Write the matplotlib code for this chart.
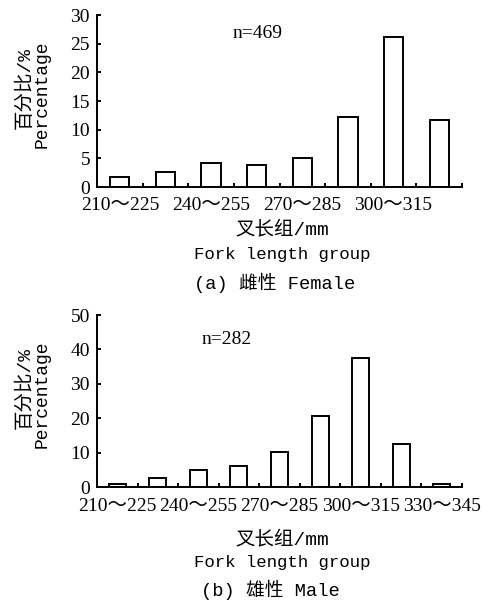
import matplotlib
matplotlib.use("Agg")
import matplotlib.pyplot as plt
import numpy as np

# fork length groups (mm)
female_groups = ["210～225", "225～240", "240～255", "255～270",
                 "270～285", "285～300", "300～315", "315～330"]
female_pct = [1.7, 2.7, 4.1, 3.8, 5.0, 12.2, 26.2, 11.7]

male_groups = ["210～225", "225～240", "240～255", "255～270", "270～285",
               "285～300", "300～315", "315～330", "330～345"]
male_pct = [1.0, 2.5, 5.0, 6.0, 10.3, 20.6, 37.6, 12.4, 1.0]

SERIF = ["Liberation Serif", "Noto Sans CJK SC"]
MONO = ["Liberation Mono", "Noto Sans CJK SC"]

W, H = 482, 603


def fy(py):
    # pixel row from top -> figure fraction
    return 1 - py / H


def draw_panel(ax, groups, values, ymax, ystep, n_text, n_pos, xpad, off, caption, cap_x, lab_y):
    x = np.arange(len(groups))
    ax.bar(x, values, width=0.42, color="white", edgecolor="black", linewidth=1.4)
    ax.set_xlim(-0.5, len(groups) - 0.5)
    ax.set_ylim(0, ymax)

    for s in ["top", "right"]:
        ax.spines[s].set_visible(False)
    for s in ["left", "bottom"]:
        ax.spines[s].set_linewidth(1.4)

    # labels on every other bar, small marks between bars
    ax.set_xticks(x[::2])
    ax.set_xticklabels(groups[::2], family=SERIF, fontsize=14)
    ax.set_xticks(np.arange(0.5, len(groups), 1.0), minor=True)
    ax.tick_params(axis="x", which="major", length=0, pad=xpad)
    ax.tick_params(axis="x", which="minor", direction="in", length=3, width=1.4)

    ax.set_yticks(np.arange(0, ymax + 1, ystep))
    ax.tick_params(axis="y", direction="in", length=3, width=1.4, pad=5)
    for t in ax.get_yticklabels():
        t.set_family(SERIF)
        t.set_fontsize(14)

    ax.text(n_pos[0], n_pos[1], n_text, transform=ax.transAxes, family=SERIF,
            fontsize=14, ha="center", va="center")

    fig = ax.figure
    # y label, two rotated lines
    fig.text(25 / W, fy(off + 88), "百分比/%", family=MONO, fontsize=14,
             rotation=90, ha="center", va="center")
    fig.text(42 / W, fy(off + 94), "Percentage", family=MONO, fontsize=13,
             rotation=90, ha="center", va="center")
    # x label, two lines
    fig.text(282 / W, fy(lab_y[0]), "叉长组/mm", family=MONO, fontsize=14,
             ha="center", va="center")
    fig.text(282 / W, fy(lab_y[1]), "Fork length group", family=MONO,
             fontsize=12.5, ha="center", va="center")
    fig.text(cap_x / W, fy(lab_y[2]), caption, family=MONO, fontsize=13.5,
             ha="center", va="center")


fig = plt.figure(figsize=(W / 100, H / 100), dpi=100)
ax1 = fig.add_axes([97 / W, fy(187), 365 / W, 172 / H])
ax2 = fig.add_axes([97 / W, fy(487), 365 / W, 172 / H])

draw_panel(ax1, female_groups, female_pct, 30, 5, "n=469", (0.44, 0.895), 7,
           0, "(a) 雌性 Female", 275, (230, 254, 283))
draw_panel(ax2, male_groups, male_pct, 50, 10, "n=282", (0.356, 0.855), 8,
           300, "(b) 雄性 Male", 270, (540, 562, 590))

fig.savefig("out.png", dpi=100)
